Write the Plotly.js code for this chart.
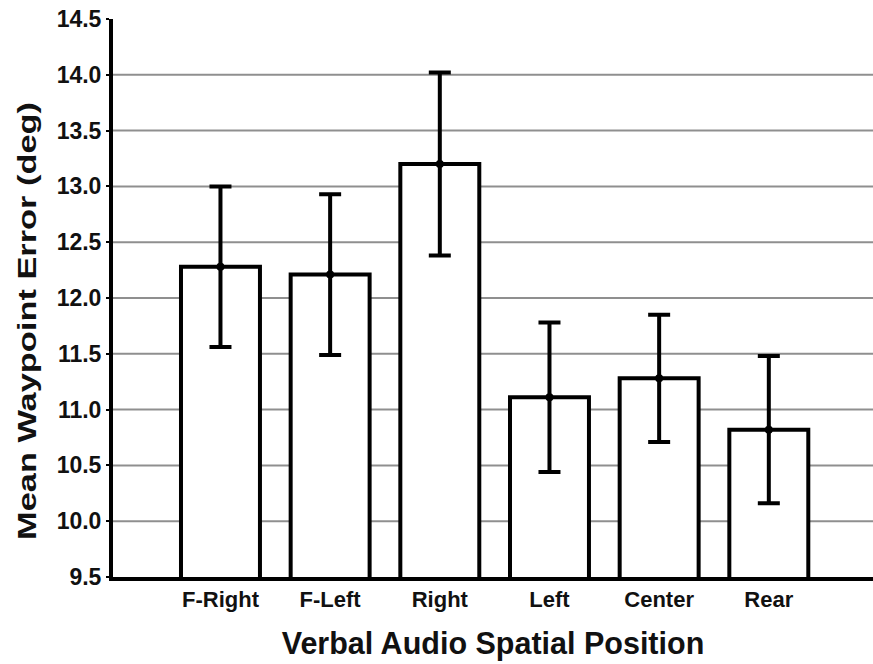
<!DOCTYPE html>
<html>
<head>
<meta charset="utf-8">
<script src="https://cdn.plot.ly/plotly-3.0.1.min.js"></script>
<style>html,body{margin:0;padding:0;background:#fff;}#chart{width:873px;height:664px;}</style>
</head>
<body>
<div id="chart"></div>
<script>
var categories = ["F-Right", "F-Left", "Right", "Left", "Center", "Rear"];
var meanError = [12.28, 12.21, 13.20, 11.11, 11.28, 10.82];
var errorBar = [0.72, 0.72, 0.82, 0.67, 0.57, 0.66];
var yTickVals = [9.5, 10.0, 10.5, 11.0, 11.5, 12.0, 12.5, 13.0, 13.5, 14.0, 14.5];
var gridVals = [10.0, 10.5, 11.0, 11.5, 12.0, 12.5, 13.0, 13.5, 14.0];

var fontFam = "Arial, 'Liberation Sans', sans-serif";
var txtColor = "#111111";

var bars = {
  type: "bar",
  x: categories,
  y: meanError,
  width: 0.72,
  marker: {color: "#ffffff", line: {color: "#000000", width: 4}},
  hoverinfo: "x+y",
  showlegend: false
};
var errs = {
  type: "scatter",
  mode: "markers",
  x: categories,
  y: meanError,
  marker: {color: "#000000", size: 8},
  error_y: {type: "data", array: errorBar, visible: true, color: "#000000", thickness: 4, width: 11},
  showlegend: false
};

var shapes = gridVals.map(function (v) {
  return {type: "line", xref: "paper", x0: 0, x1: 1, yref: "y", y0: v, y1: v,
          line: {color: "#8f8f8f", width: 2}, layer: "below"};
});

var layout = {
  width: 873, height: 664,
  margin: {l: 113, r: 0, t: 19, b: 87},
  paper_bgcolor: "#ffffff", plot_bgcolor: "#ffffff",
  shapes: shapes,
  xaxis: {
    type: "category",
    range: [-0.98, 5.95],
    showline: true, linecolor: "#000000", linewidth: 4,
    showgrid: false, zeroline: false, ticks: "",
    tickfont: {family: fontFam, size: 22, color: txtColor, weight: "bold"},
    title: {text: "Verbal Audio Spatial Position", standoff: 22,
            font: {family: fontFam, size: 30.5, color: txtColor, weight: "bold"}}
  },
  yaxis: {
    range: [9.5, 14.5],
    tickvals: yTickVals,
    ticktext: yTickVals.map(function (v) { return v.toFixed(1); }),
    showline: true, linecolor: "#000000", linewidth: 4,
    showgrid: false, zeroline: false,
    ticks: "outside", ticklen: 3, tickwidth: 2, tickcolor: "#000000",
    tickfont: {family: fontFam, size: 23, color: txtColor, weight: "bold"},
    title: {text: "Mean Waypoint Error (deg)", standoff: 14,
            font: {family: fontFam, size: 26, color: txtColor, weight: "bold"}}
  }
};

Plotly.newPlot("chart", [bars, errs], layout, {displayModeBar: false, staticPlot: true}).then(function (gd) {
  // the reference's y title is drawn longer and a little lower than the plot centre
  var t = gd.querySelector(".ytitle");
  if (t) {
    var x = parseFloat(t.getAttribute("x"));
    var y = parseFloat(t.getAttribute("y")) + 23;
    t.setAttribute("y", y);
    t.setAttribute("transform", "rotate(-90," + x + "," + y + ")");
    t.setAttribute("textLength", 438);
    t.setAttribute("lengthAdjust", "spacingAndGlyphs");
  }
});
</script>
</body>
</html>
